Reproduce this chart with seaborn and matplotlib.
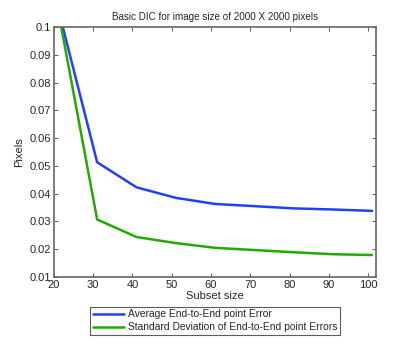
import pandas as pd
import matplotlib
matplotlib.use("Agg")
import matplotlib.pyplot as plt
import seaborn as sns

subset_size = [21, 31, 41, 51, 61, 71, 81, 91, 101]
avg_error = [0.107, 0.0513, 0.0423, 0.0385, 0.0363, 0.0355, 0.0347, 0.0343, 0.0338]
std_error = [0.1065, 0.0307, 0.0244, 0.0222, 0.0205, 0.0197, 0.0189, 0.0182, 0.0179]
labels = ["Average End-to-End point Error", "Standard Deviation of End-to-End point Errors"]

df = pd.DataFrame({"size": subset_size * 2,
                   "value": avg_error + std_error,
                   "series": [labels[0]] * len(subset_size) + [labels[1]] * len(subset_size)})

sns.set_style("white")
plt.rcParams['font.family'] = ['Liberation Sans', 'DejaVu Sans']

fig = plt.figure(figsize=(4.15, 3.56), dpi=100)
ax = fig.add_axes([0.130, 0.222, 0.776, 0.702])
sns.lineplot(data=df, x="size", y="value", hue="series",
             palette=["#2040ff", "#22aa00"], linewidth=1.8, ax=ax, legend=False)

ax.set_xlim(20, 102)
ax.set_ylim(0.01, 0.1)
ax.set_xticks(range(20, 101, 10))
ax.set_yticks([0.01, 0.02, 0.03, 0.04, 0.05, 0.06, 0.07, 0.08, 0.09, 0.1])
ax.set_yticklabels(["0.01", "0.02", "0.03", "0.04", "0.05", "0.06", "0.07", "0.08", "0.09", "0.1"])
ax.tick_params(direction="in", bottom=True, left=True, top=True, right=True,
               length=3, width=0.6, labelsize=8, color="#444444", pad=2)
for s in ax.spines.values():
    s.set_color("#666666")
    s.set_linewidth(1.2)

ax.set_xlabel("Subset size", fontsize=8, labelpad=1)
ax.set_ylabel("Pixels", fontsize=8, labelpad=4)
ax.set_title("Basic DIC for image size of 2000 X 2000 pixels", fontsize=7.1, pad=5)

handles = ax.get_lines()[:2]
leg = fig.legend(handles, labels, loc="upper center", bbox_to_anchor=(0.518, 0.153),
                 fontsize=7.4, frameon=True, fancybox=False, handlelength=3.0,
                 borderpad=0.25, labelspacing=0.3, handletextpad=0.4)
leg.get_frame().set_edgecolor("#333333")
leg.get_frame().set_linewidth(0.8)

fig.savefig("out.png", dpi=100)
